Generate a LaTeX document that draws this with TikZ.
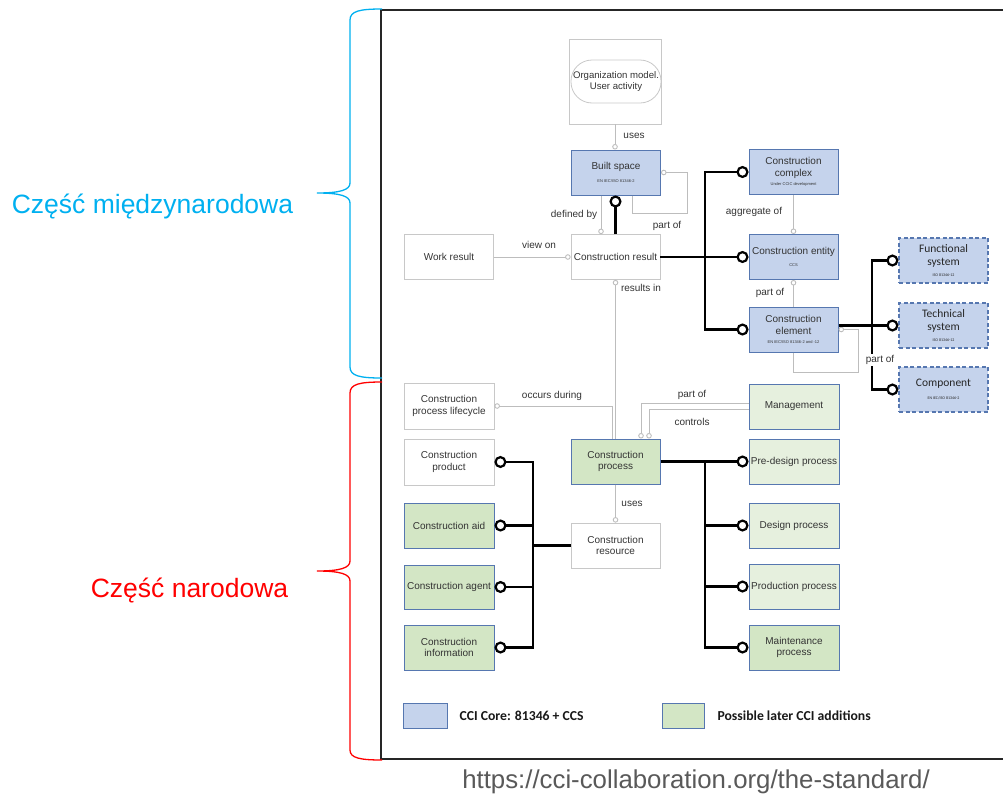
\documentclass[tikz,border=0pt]{standalone}
\usepackage{fontspec}
\setmainfont{Liberation Sans}
\newfontfamily\calib{Carlito}
\usetikzlibrary{arrows.meta,calc}
\definecolor{cblue}{HTML}{C5D3EC}
\definecolor{bblue}{HTML}{5677B0}
\definecolor{cgreen}{HTML}{D3E6C5}
\definecolor{lgreen}{HTML}{E6F0DE}
\definecolor{gline}{HTML}{BDBDBD}
\definecolor{gbox}{HTML}{C8C8C8}
\definecolor{txt}{HTML}{333333}
\definecolor{braceblue}{HTML}{00B0F0}
\definecolor{urlgray}{HTML}{595959}
\newcommand\tinyf{\fontsize{4}{5}\selectfont}
\begin{document}
\begin{tikzpicture}[x=1pt,y=-1pt,
  box/.style={draw=gbox, line width=0.8pt, minimum width=89pt, minimum height=45pt, inner sep=1pt, align=center, font=\fontsize{10}{11.5}\selectfont, text=txt},
  core/.style={box, draw=bblue, fill=cblue, line width=1pt},
  ext/.style={core, dash pattern=on 4pt off 2.5pt, line width=1.2pt, font=\calib\fontsize{11.5}{13}\selectfont, text=black!85},
  add/.style={box, draw=bblue, fill=cgreen, line width=1pt},
  addl/.style={box, draw=bblue, fill=lgreen, line width=1pt},
  rel/.style={draw=gline, line width=0.9pt},
  sce/.style={-{Circle[open,length=5.5pt,width=5.5pt]}},
  scs/.style={{Circle[open,length=5.5pt,width=5.5pt]}-},
  bus/.style={draw=black, line width=2.8pt},
  bce/.style={-{Circle[fill=white,length=12pt,width=12pt,line width=2.2pt]}},
  bcb/.style={{Circle[fill=white,length=12pt,width=12pt,line width=2.2pt]}-{Circle[fill=white,length=12pt,width=12pt,line width=2.2pt]}},
  lbl/.style={font=\fontsize{10}{12}\selectfont, text=txt, inner sep=1pt},
  legt/.style={anchor=west, font=\calib\bfseries\fontsize{13.7}{15}\selectfont, text=black!90}
]
\useasboundingbox (0,0) rectangle (1003,798);

% frame
\draw[line width=1.6pt, black!85] (1003,10) -- (381,10) -- (381,759) -- (1003,759);

% braces
\draw[braceblue, line width=1.3pt] (382,9) .. controls (360,9) and (350,11) .. (350,20) -- (350,183)
  .. controls (350,190) and (340,193) .. (317,193) .. controls (340,193) and (350,196) .. (350,203)
  -- (350,367) .. controls (350,376) and (360,378) .. (382,378);
\draw[red, line width=1.3pt] (382,382) .. controls (360,382) and (350,384) .. (350,393) -- (350,561)
  .. controls (350,568) and (340,571) .. (317,571) .. controls (340,571) and (350,574) .. (350,581)
  -- (350,750) .. controls (350,758) and (360,760) .. (382,760);
\node[text=braceblue, font=\fontsize{26.5}{30}\selectfont, inner sep=0pt] (intl) at (152.5,207) {Część międzynarodowa};
\node[text=red, font=\fontsize{26.5}{30}\selectfont, inner sep=0pt] (natl) at (189.5,590) {Część narodowa};
\node[text=urlgray, font=\fontsize{25.8}{28}\selectfont, inner sep=0pt] (url) at (696,782) {https://cci-collaboration.org/the-standard/};

% nodes
\node[box, minimum width=92pt, minimum height=85pt] (orgbox) at (615,81.5) {};
\node[draw=gbox, line width=0.8pt, rounded corners=21pt, minimum width=90pt, minimum height=43pt, inner sep=0pt, align=center, font=\fontsize{9.6}{11.5}\selectfont, text=txt] (org) at (616,81.5) {Organization model.\\User activity};
\node[core] (built) at (616,172.5) {Built space\\[1pt]{\tinyf EN IEC/ISO 81346-2}};
\node[box] (cres) at (615.5,257) {Construction result};
\node[box] (work) at (449,257) {Work result};
\node[core] (complex) at (793.5,172) {Construction\\complex\\[-2pt]{\tinyf Under CCIC development}};
\node[core] (entity) at (793.5,257) {Construction entity\\[1pt]{\tinyf CCS}};
\node[core] (element) at (793.5,329.5) {Construction\\element\\[-2pt]{\tinyf EN IEC/ISO 81346-2 and -12}};
\node[ext] (func) at (943.5,260.5) {Functional\\system\\[-2pt]{\tinyf ISO 81346-12}};
\node[ext] (tech) at (943.5,325.5) {Technical\\system\\[-2pt]{\tinyf ISO 81346-12}};
\node[ext] (comp) at (943.5,389.5) {Component\\[0pt]{\tinyf EN IEC/ISO 81346-2}};
\node[addl, minimum width=90pt] (mgmt) at (794,406.5) {Management};
\node[addl, minimum width=90pt] (pre) at (794,461.5) {Pre-design process};
\node[addl, minimum width=90pt] (design) at (794,525.5) {Design process};
\node[addl, minimum width=90pt] (prod) at (794,586.5) {Production process};
\node[add, minimum width=90pt] (maint) at (794,647.5) {Maintenance\\process};
\node[box, minimum width=90pt, minimum height=46pt] (life) at (449,406) {Construction\\process lifecycle};
\node[box, minimum width=90pt, minimum height=46pt] (product) at (449,462) {Construction\\product};
\node[add, minimum width=90pt] (aid) at (449,525.5) {Construction aid};
\node[add, minimum width=90pt, minimum height=44pt] (agent) at (449,587) {Construction agent};
\node[add, minimum width=90pt] (info) at (449,647.5) {Construction\\information};
\node[add] (process) at (615.5,461.5) {Construction\\process};
\node[box] (resource) at (615.5,545.5) {Construction\\resource};

% legend
\node[core, minimum width=44pt, minimum height=25pt] (legb) at (425,715.5) {};
\node[legt] (legbt) at (456,716) {CCI Core: 81346 + CCS};
\node[add, minimum width=42pt, minimum height=25pt] (legg) at (683,715.5) {};
\node[legt] (leggt) at (714,716) {Possible later CCI additions};

% gray relations
\draw[rel, sce] (orgbox.south) -- (orgbox.south |- built.north);
\node[lbl] (luses1) at (634,136) {uses};
\draw[rel, sce] ([xshift=-15pt]built.south) -- ([xshift=-15pt]built.south |- cres.north);
\node[lbl] (ldef) at (574,215) {defined by};
\coordinate (bl) at (687,213);
\draw[rel, sce] ([xshift=16pt]built.south) |- (bl) |- (built.east);
\node[lbl] (lpart1) at (667,226) {part of};
\draw[rel, sce] (work.east) -- (cres.west);
\node[lbl] (lview) at (539,245) {view on};
\draw[rel, sce] (complex.south) -- (entity.north);
\node[lbl] (lagg) at (754,212) {aggregate of};
\draw[rel, sce] (element.north) -- (entity.south);
\node[lbl] (lpart2) at (770,293) {part of};
\coordinate (el) at (858,372);
\draw[rel, sce] (element.south) |- (el) |- (element.east);
\draw[rel, scs] (cres.south) -- (process.north);
\node[lbl] (lres) at (641,288) {results in};
\draw[rel, sce] ([xshift=-3pt]process.north) |- (life.east);
\node[lbl] (locc) at (552,396) {occurs during};
\draw[rel, scs] ([xshift=25.5pt]process.north) |- ([yshift=3.5pt]mgmt.west);
\node[lbl] (lpart4) at (692,395) {part of};
\draw[rel, scs] ([xshift=33.5pt]process.north) |- ([yshift=-2.5pt]mgmt.west);
\node[lbl] (lctrl) at (692,422) {controls};
\draw[rel, sce] (process.south) -- (resource.north);
\node[lbl] (luses2) at (632,504) {uses};

% thick buses
\draw[bus, bce] (cres.north) -- (cres.north |- built.south);
\coordinate (t1) at (705,257);
\draw[bus, bce] (cres.east) -- (entity.west);
\draw[bus, bcb] (complex.west) -| (t1 |- element.west) -- (element.west);

\coordinate (t2) at (872,325.5);
\draw[bus, bce] (element.east |- tech.west) -- (tech.west);
\draw[bus, bcb] (func.west) -| (t2 |- comp.west) -- (comp.west);
\node[lbl, fill=white] (lpart3) at (880,360) {part of};

\coordinate (t3) at (705,461.5);
\draw[bus, bce] (process.east) -- (pre.west);
\draw[bus, bce] (t3) |- (maint.west);
\draw[bus, bce] (t3 |- design.west) -- (design.west);
\draw[bus, bce] (t3 |- prod.west) -- (prod.west);

\coordinate (t4) at (533,545.5);
\draw[bus] (resource.west) -- (t4);
\draw[bus, bcb] (product.east) -| (t4 |- info.east) -- (info.east);
\draw[bus, bce] (t4 |- aid.east) -- (aid.east);
\draw[bus, bce] (t4 |- agent.east) -- (agent.east);
\end{tikzpicture}
\end{document}
